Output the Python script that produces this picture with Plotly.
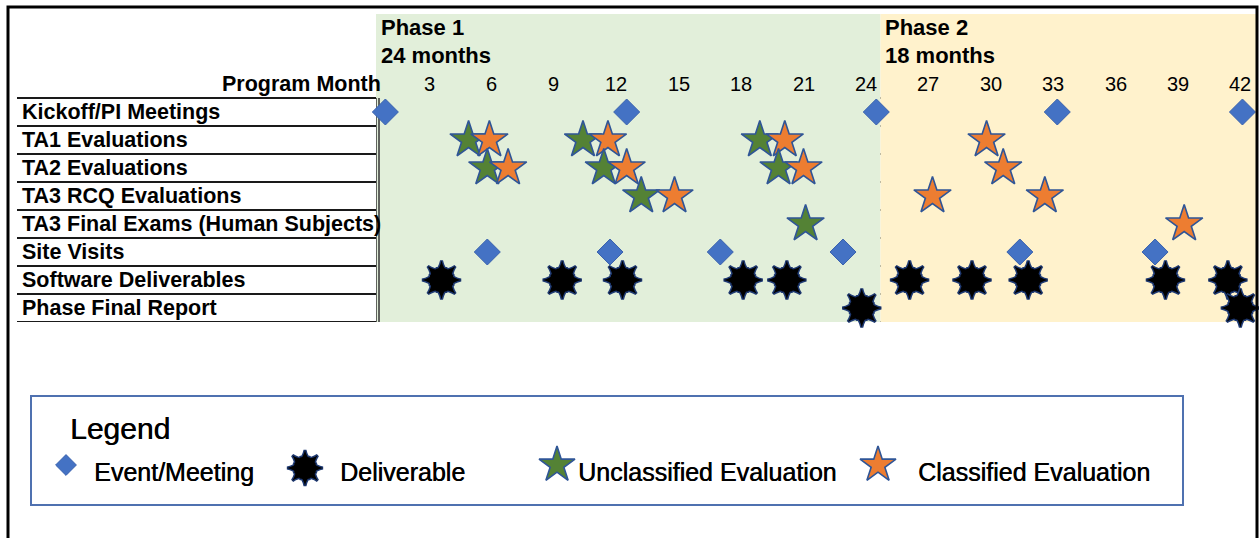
import plotly.graph_objects as go

# ---- schedule data (program months) ----
rows = [
    "Kickoff/PI Meetings",
    "TA1 Evaluations",
    "TA2 Evaluations",
    "TA3 RCQ Evaluations",
    "TA3 Final Exams (Human Subjects)",
    "Site Visits",
    "Software Deliverables",
    "Phase Final Report",
]
month_ticks = [3, 6, 9, 12, 15, 18, 21, 24, 27, 30, 33, 36, 39, 42]

kickoff_months = [0.9, 12.5, 24.5, 33.2, 42.1]
ta1_unclassified = [4.9, 10.4, 18.9]
ta1_classified = [5.9, 11.6, 20.1, 29.8]
ta2_unclassified = [5.8, 11.4, 19.8]
ta2_classified = [6.8, 12.5, 21.0, 30.6]
rcq_unclassified = [13.2]
rcq_classified = [14.8, 27.2, 32.6]
final_exam_unclassified = [21.1]
final_exam_classified = [39.3]
site_visit_months = [5.8, 11.7, 17.0, 22.9, 31.4, 37.9]
software_months = [3.6, 9.4, 12.3, 18.1, 20.2, 26.1, 29.1, 31.8, 38.4, 41.4]
final_report_months = [23.8, 42.0]

phases = [
    ("Phase 1", "24 months"),
    ("Phase 2", "18 months"),
]

# ---- layout constants ----
W, H = 1259, 538
MONTH_MIN, MONTH_MAX = 0.45, 42.8
PHASE1_END = 24.7
HEADER_ROWS = 3

GREEN_BG = "#E2EFDA"
YELLOW_BG = "#FFF2CC"
BLUE = "#4472C4"
GREEN = "#548235"
ORANGE = "#ED7D31"
OUTLINE = "#2F5597"
DARK_OUTLINE = "#1F3A73"
LINE = "#1A1A1A"

LABEL_FONT = dict(family="Liberation Sans, Arial, sans-serif", size=21.5, color="black")
PHASE_FONT = dict(family="Liberation Sans, Arial, sans-serif", size=22, color="black")
TICK_FONT = dict(family="Liberation Sans, Arial, sans-serif", size=20, color="black")
LEGEND_FONT = dict(family="Liberation Sans, Arial, sans-serif", size=25, color="black",
                   shadow="0.5px 0px 0px black")


def px(x):
    return x / W


def py(y):
    return 1 - y / H


def row_y(name):
    return rows.index(name) + 0.5


fig = go.Figure()


def diamond_trace(xs, ys, size, xaxis="x", yaxis="y"):
    return go.Scatter(
        x=xs, y=ys, mode="markers", xaxis=xaxis, yaxis=yaxis,
        marker=dict(symbol="diamond", size=size, color=BLUE,
                    line=dict(width=1, color="#3A62AE")),
        cliponaxis=False, showlegend=False, hoverinfo="x",
    )


def star_trace(xs, ys, color, size, xaxis="x", yaxis="y"):
    return go.Scatter(
        x=xs, y=ys, mode="markers", xaxis=xaxis, yaxis=yaxis,
        marker=dict(symbol="star", size=size, color=color,
                    line=dict(width=1.6, color=OUTLINE)),
        cliponaxis=False, showlegend=False, hoverinfo="x",
    )


def burst_traces(xs, ys, size, xaxis="x", yaxis="y"):
    """Eight-point black burst: two four-point stars plus an octagon core.
    The outlined layer goes first, the plain black layer on top hides inner edges."""
    parts = [("star-square", 0, size), ("star-square", 45, size), ("octagon", 0, size * 1.0)]
    out = []
    for line_w in (3, 0):
        for sym, ang, s in parts:
            out.append(go.Scatter(
                x=xs, y=ys, mode="markers", xaxis=xaxis, yaxis=yaxis,
                marker=dict(symbol=sym, size=s, angle=ang, color="black",
                            line=dict(width=line_w, color=DARK_OUTLINE)),
                cliponaxis=False, showlegend=False, hoverinfo="x",
            ))
    return out


# ---- schedule marks ----
fig.add_trace(diamond_trace(kickoff_months, [row_y("Kickoff/PI Meetings")] * len(kickoff_months), 20))

eval_rows = [
    ("TA1 Evaluations", ta1_unclassified, ta1_classified),
    ("TA2 Evaluations", ta2_unclassified, ta2_classified),
    ("TA3 RCQ Evaluations", rcq_unclassified, rcq_classified),
    ("TA3 Final Exams (Human Subjects)", final_exam_unclassified, final_exam_classified),
]
for name, unclassified, classified in eval_rows:
    fig.add_trace(star_trace(unclassified, [row_y(name)] * len(unclassified), GREEN, 28))
    fig.add_trace(star_trace(classified, [row_y(name)] * len(classified), ORANGE, 28))

fig.add_trace(diamond_trace(site_visit_months, [row_y("Site Visits")] * len(site_visit_months), 20))
for t in burst_traces(software_months, [row_y("Software Deliverables")] * len(software_months), 25):
    fig.add_trace(t)
for t in burst_traces(final_report_months, [row_y("Phase Final Report")] * len(final_report_months), 25):
    fig.add_trace(t)

# ---- legend symbols (pixel-space overlay axes) ----
fig.add_trace(diamond_trace([66], [465], 16, "x2", "y2"))
for t in burst_traces([305], [468], 23, "x2", "y2"):
    fig.add_trace(t)
fig.add_trace(star_trace([557], [465], GREEN, 27, "x2", "y2"))
fig.add_trace(star_trace([878], [465], ORANGE, 27, "x2", "y2"))

shapes = []
# phase backgrounds
shapes.append(dict(type="rect", xref="x", yref="y", x0=MONTH_MIN, x1=PHASE1_END,
                   y0=-HEADER_ROWS, y1=len(rows), fillcolor=GREEN_BG, line_width=0, layer="below"))
shapes.append(dict(type="rect", xref="x", yref="y", x0=PHASE1_END, x1=MONTH_MAX,
                   y0=-HEADER_ROWS, y1=len(rows), fillcolor=YELLOW_BG, line_width=0, layer="below"))
# row separators
for i in range(len(rows) + 1):
    shapes.append(dict(type="line", xref="paper", yref="y", x0=px(17), x1=px(1257), y0=i, y1=i,
                       line=dict(color=LINE, width=2), layer="below"))
# double rule between labels and timeline
for off in (0, 3):
    shapes.append(dict(type="line", xref="x", yref="y", xsizemode="pixel", xanchor=MONTH_MIN,
                       x0=off, x1=off, y0=0, y1=len(rows),
                       line=dict(color="#333333", width=1.5), layer="below"))
# outer frame
shapes.append(dict(type="rect", xref="paper", yref="paper", x0=px(8), x1=px(1257),
                   y0=-0.2, y1=py(7), line=dict(color="black", width=3), fillcolor="rgba(0,0,0,0)"))
# legend box
shapes.append(dict(type="rect", xref="paper", yref="paper", x0=px(31), x1=px(1183),
                   y0=py(505), y1=py(396), line=dict(color="#4F71B0", width=2),
                   fillcolor="rgba(0,0,0,0)"))

annotations = []
for name in rows:
    annotations.append(dict(text="<b>%s</b>" % name, xref="paper", yref="y", x=px(20), y=row_y(name),
                            xanchor="left", yanchor="middle", showarrow=False, font=LABEL_FONT))
annotations.append(dict(text="<b>Program Month</b>", xref="paper", yref="y", x=px(383), y=-0.5,
                        xanchor="right", yanchor="middle", showarrow=False, font=LABEL_FONT))
for m in month_ticks:
    annotations.append(dict(text=str(m), xref="x", yref="y", x=m, y=-0.5,
                            xanchor="center", yanchor="middle", showarrow=False, font=TICK_FONT))
for start, (title, length) in zip([MONTH_MIN, PHASE1_END], phases):
    annotations.append(dict(text="<b>%s</b>" % title, xref="x", yref="y", x=start, xshift=3, y=-2.5,
                            xanchor="left", yanchor="middle", showarrow=False, font=PHASE_FONT))
    annotations.append(dict(text="<b>%s</b>" % length, xref="x", yref="y", x=start, xshift=3, y=-1.5,
                            xanchor="left", yanchor="middle", showarrow=False, font=PHASE_FONT))

# legend text
annotations.append(dict(text="Legend", xref="paper", yref="paper", x=px(68), y=py(428),
                        xanchor="left", yanchor="middle", showarrow=False,
                        font=dict(family=LEGEND_FONT["family"], size=30, color="black",
                                  shadow="0.5px 0px 0px black")))
for x0, label in [(92, "Event/Meeting"), (338, "Deliverable"),
                  (576, "Unclassified Evaluation"), (916, "Classified Evaluation")]:
    annotations.append(dict(text=label, xref="paper", yref="paper", x=px(x0), y=py(472),
                            xanchor="left", yanchor="middle", showarrow=False, font=LEGEND_FONT))

fig.update_layout(
    width=W, height=H,
    margin=dict(l=0, r=0, t=0, b=0),
    paper_bgcolor="white", plot_bgcolor="rgba(0,0,0,0)",
    showlegend=False,
    xaxis=dict(domain=[px(376), px(1257)], range=[MONTH_MIN, MONTH_MAX], visible=False, fixedrange=True),
    yaxis=dict(domain=[py(322), py(14)], range=[len(rows), -HEADER_ROWS], visible=False, fixedrange=True),
    xaxis2=dict(domain=[0, 1], range=[0, W], visible=False, anchor="y2", fixedrange=True),
    yaxis2=dict(domain=[0, 1], range=[H, 0], visible=False, anchor="x2", fixedrange=True),
    shapes=shapes,
    annotations=annotations,
)

fig.write_html("out.html")
